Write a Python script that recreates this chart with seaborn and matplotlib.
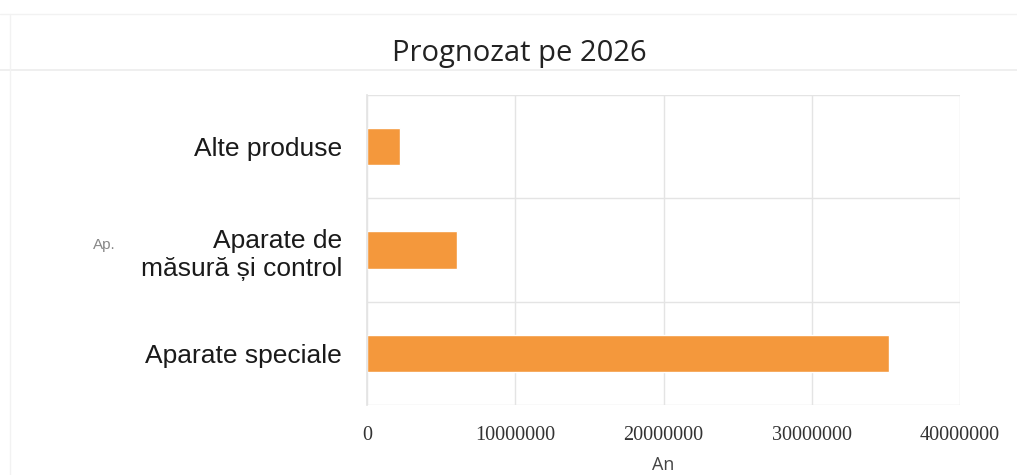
import matplotlib.pyplot as plt
import pandas as pd
import seaborn as sns
from matplotlib.lines import Line2D

categories = ["Alte produse", "Aparate de\nmăsură și control", "Aparate speciale"]
values = [2200000, 6050000, 35200000]
x_ticks = [0, 10000000, 20000000, 30000000, 40000000]

df = pd.DataFrame({"categorie": categories, "valoare": values})

sns.set_theme(style="white")
plt.rcParams["font.family"] = ["Liberation Sans", "DejaVu Sans"]

fig = plt.figure(figsize=(10.17, 4.75), dpi=100)
ax = fig.add_axes([0.361, 0.147, 0.583, 0.653])

sns.barplot(
    data=df,
    x="valoare",
    y="categorie",
    orient="h",
    color="#f4983c",
    saturation=1,
    width=0.36,
    ax=ax,
)

ax.set_xlim(0, 40000000)
ax.set_ylim(2.5, -0.5)
ax.set_xticks(x_ticks)
ax.set_xticklabels([str(t) for t in x_ticks], family="Liberation Serif", fontsize=14.5, color="#333333")
ax.set_yticks([0, 1, 2])
ax.set_yticklabels(categories, fontsize=19, color="#1a1a1a", linespacing=1.25)
ax.set_yticks([-0.5, 0.5, 1.5, 2.5], minor=True)
ax.tick_params(axis="y", length=0, pad=18)
ax.tick_params(axis="x", length=0, pad=15)

ax.grid(axis="x", color="#e4e4e4", linewidth=1)
ax.grid(axis="y", which="minor", color="#e4e4e4", linewidth=1)
ax.set_axisbelow(True)
for side in ["top", "right", "bottom"]:
    ax.spines[side].set_visible(False)
ax.spines["left"].set_color("#e4e4e4")

ax.set_xlabel("An", fontsize=13, color="#444444", family="Open Sans", labelpad=8)
ax.set_ylabel("")
fig.text(0.103, 0.485, "Ap.", fontsize=11, color="#888888", ha="center", va="center")

fig.text(0.511, 0.888, "Prognozat pe 2026", fontsize=21, family="Open Sans",
         color="#222222", ha="center", va="center")

# faint frame lines of the original chart box
fig.add_artist(Line2D([0.0, 1.0], [0.853, 0.853], color="#ececec", linewidth=1.2))
fig.add_artist(Line2D([0.0, 1.0], [0.97, 0.97], color="#f2f2f2", linewidth=1.0))
fig.add_artist(Line2D([0.01, 0.01], [0.0, 0.97], color="#f2f2f2", linewidth=1.0))

fig.savefig("out.png", dpi=100, facecolor="white")
